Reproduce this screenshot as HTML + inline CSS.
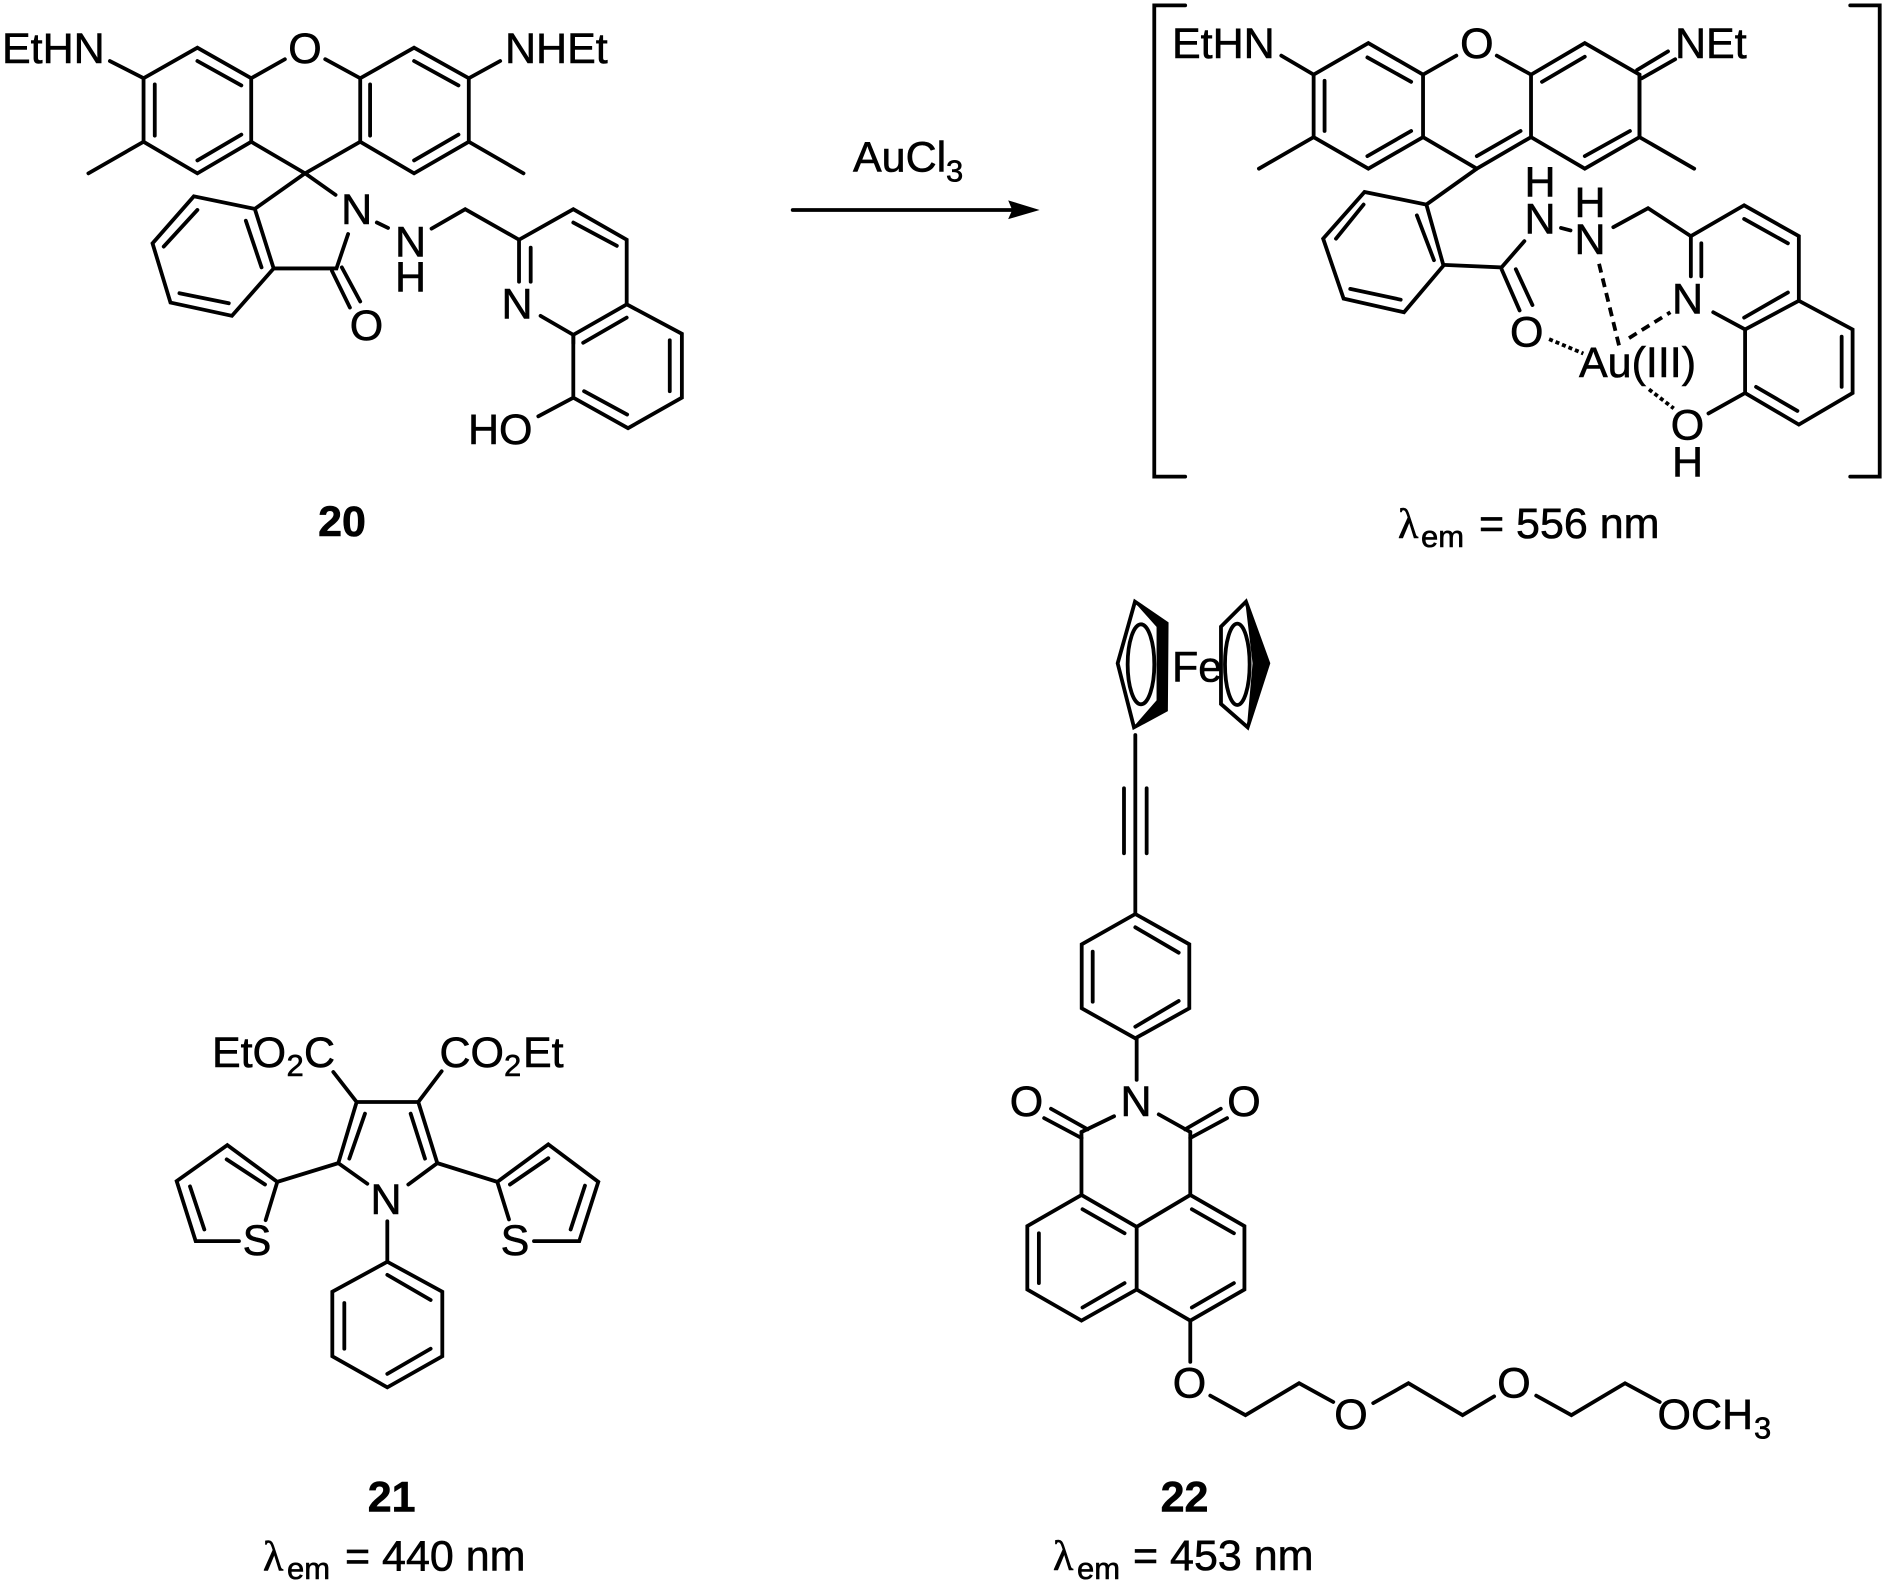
<!DOCTYPE html>
<html><head><meta charset="utf-8"><title>Compounds 20-22</title>
<style>
html,body{margin:0;padding:0;background:#fff;width:1882px;height:1585px;overflow:hidden}
svg{display:block}
text{font-family:"Liberation Sans",Arial,sans-serif;font-size:43px;fill:#000;stroke:#000;stroke-width:.6px}
.m{text-anchor:middle}
.b{font-weight:bold}
.s{font-size:31px}
.l{font-family:"Liberation Serif","DejaVu Serif",serif;font-size:42px}
path,polyline,line,polygon,ellipse{vector-effect:non-scaling-stroke;stroke:#000;stroke-width:3.8;fill:none;stroke-linejoin:miter;stroke-linecap:round}
.f{fill:#000;stroke-width:1.5}
.d{stroke-dasharray:9 6;stroke-linecap:butt}
.t{stroke-dasharray:4 3;stroke-linecap:butt}
</style></head><body>
<svg xmlns="http://www.w3.org/2000/svg" width="1882" height="1585" viewBox="0 0 1882 1585">
<rect width="1882" height="1585" fill="#fff"/>

<!-- Compound 20 -->
<g transform="scale(.4486 .3589)">
<path d="M320 218L440 133L560 218L560 395L440 483L320 395Z"/>
<path d="M345 235V378M440 170L538 238M440 447L538 375"/>
<path d="M245 170L320 218M320 395L197 483M560 218L635 165M725 165L803 218"/>
<path d="M803 218L923 133L1045 218L1045 395L923 483L803 395Z"/>
<path d="M825 235V378M923 170L1022 238M923 447L1022 375M1045 218L1115 170M1045 395L1167 483"/>
<path d="M560 395L680 483L803 395M680 483L568 582M680 483L748 543"/>
<path d="M568 582L432 547L340 678L380 843L517 880L610 748Z"/>
<path d="M548 615L583 745M440 585L365 687M400 817L510 845"/>
<path d="M610 748H750L776 652M740 755L780 857M762 745L803 840M840 620L865 635"/>
<path d="M962 637L1037 583L1157 668L1278 583L1397 668V848L1278 933L1205 880"/>
<path d="M1157 668V785M1183 690V785M1278 620L1375 685M1278 957V933M1300 955L1397 885"/>
<path d="M1397 848L1520 930V1108L1400 1193L1278 1108V933M1493 948V1090M1302 1090L1398 1155M1278 1108L1200 1160"/>
</g>
<text x="2" y="62.8">EtHN</text>
<text x="505" y="62.8">NHEt</text>
<text class="m" x="305" y="62.8">O</text>
<text class="m" x="356.7" y="224">N</text>
<text class="m" x="410.5" y="256.6">N</text>
<text class="m" x="410.5" y="291.5">H</text>
<text class="m" x="366.5" y="340">O</text>
<text class="m" x="517" y="318.4">N</text>
<text x="468" y="444">HO</text>
<text class="m b" x="342" y="536">20</text>

<!-- Arrow -->
<line x1="792.7" y1="210" x2="1013" y2="210"/>
<polygon class="f" points="1037,210 1009.5,201.5 1013,210 1009.5,218"/>
<text x="853" y="171.7">AuCl</text>
<text class="s" x="946" y="181.7">3</text>

<!-- Complex -->
<g transform="translate(1140 0) scale(.4757 .3589)">
<path d="M95 15H30V1328H95M1493 15H1555V1328H1493"/>
<path d="M365 208L480 120L595 208V382L480 470L365 382Z"/>
<path d="M388 225V365M478 160L570 228M478 435L570 365M297 155L365 208M365 382L250 470M595 208L665 155M750 155L822 208"/>
<path d="M595 382L708 470L822 382V208L935 120L1050 208V382L935 470L822 382"/>
<path d="M708 435L800 365M845 228L935 158M935 435L1030 365M1050 208V382"/>
<path d="M1045 195L1110 143M1055 218L1125 165M1050 382L1165 470"/>
<path d="M708 470L602 570L472 535L385 665L428 832L555 870L638 740L602 570Z"/>
<path d="M582 600L618 725M470 570L412 665M442 805L548 835"/>
<path d="M638 738L760 745L808 672M760 750L798 865M790 750L825 850M885 635L905 642"/>
<path d="M995 633L1068 580L1158 658L1270 572L1385 658V838L1272 918L1205 870"/>
<path d="M1158 658V770M1180 678V770M1270 610L1362 678M1270 885L1362 815"/>
<path d="M1385 838L1498 918V1095L1385 1183L1272 1095V918M1475 938V1078M1295 1078L1382 1145M1272 1095L1195 1152"/>
<line class="d" x1="965" y1="735" x2="1008" y2="968"/>
<line class="d" x1="1028" y1="942" x2="1115" y2="870"/>
<line class="t" x1="860" y1="945" x2="932" y2="985"/>
<line class="t" x1="1070" y1="1085" x2="1122" y2="1138"/>
</g>
<text x="1172" y="58">EtHN</text>
<text class="m" x="1476.8" y="58">O</text>
<text x="1675" y="58">NEt</text>
<text class="m" x="1540" y="196.7">H</text>
<text class="m" x="1540" y="233.3">N</text>
<text class="m" x="1590" y="217">H</text>
<text class="m" x="1590" y="254">N</text>
<text class="m" x="1687.5" y="313.4">N</text>
<text class="m" x="1526.7" y="346.4">O</text>
<text x="1579" y="377">Au(III)</text>
<text class="m" x="1687.5" y="439.7">O</text>
<text class="m" x="1687.5" y="476.7">H</text>
<text class="l" x="1398" y="538">λ</text>
<text class="s" x="1421" y="547">em</text>
<text x="1479" y="538">= 556 nm</text>

<!-- Compound 21 -->
<g transform="translate(160 1000) scale(.3333 .375)">
<path d="M622 490L535 435L590 272H775L832 435L745 492M568 423L615 303M795 423L752 303"/>
<path d="M590 272L520 192M775 272L845 190"/>
<path d="M535 435L352 485L202 387L50 483L107 643H237M352 485L317 587M200 425L315 492M90 497L133 612"/>
<path d="M832 435L1012 485L1165 385L1315 485L1258 643H1122M1012 485L1047 585M1050 492L1165 422M1275 495L1232 612"/>
<path d="M682 590V698"/>
<path d="M682 698L847 778V950L682 1033L517 950V778Z"/>
<path d="M682 733L812 800M553 808V930M682 997L812 930"/>
</g>
<text x="212" y="1067">EtO</text>
<text class="s" x="286.5" y="1076">2</text>
<text x="304" y="1067">C</text>
<text x="439.5" y="1067">CO</text>
<text class="s" x="504" y="1076">2</text>
<text x="523" y="1067">Et</text>
<text class="m" x="386" y="1214">N</text>
<text class="m" x="257" y="1255">S</text>
<text class="m" x="515" y="1255">S</text>
<text class="m b" x="391.7" y="1511.7">21</text>
<text class="l" x="263" y="1570.6">λ</text>
<text class="s" x="287" y="1579">em</text>
<text x="345" y="1570.6">= 440 nm</text>

<!-- Compound 22: ferrocene + alkyne -->
<g transform="translate(1000 580) scale(.3333)">
<path d="M405 65L500 130L498 390L402 442L353 250Z"/>
<polygon class="f" points="405,65 500,130 500,390 402,442 472,362 472,140"/>
<ellipse cx="423" cy="253" rx="40" ry="120"/>
<path d="M738 65L663 140V372L743 442L805 250Z"/>
<polygon class="f" points="738,65 805,250 743,442 760,250"/>
<ellipse cx="712" cy="253" rx="37" ry="122"/>
<path d="M406 465V1000M372 625V820M440 625V820"/>
</g>
<text x="1172" y="681.7">Fe</text>

<!-- phenyl -->
<path d="M1135.3 914L1189.3 944.3V1008.3L1135.3 1038.3L1081.7 1008.3V944.3Z"/>
<path d="M1135.3 927.3L1178.7 952.7M1092.7 951.7V1001.7M1135.3 1026.7L1178.7 1001"/>

<g transform="translate(980 1000) scale(.5257 .375)">
<path d="M298 103V213M255 310L193 352M340 305L400 352"/>
<path d="M122 315L193 368M135 290L205 345M400 368L470 315M390 345L458 290"/>
<path d="M193 352V520M400 352V520"/>
<path d="M193 520L90 603V772L193 855L298 772V605ZM298 605L400 520L503 603V772L400 855L298 772"/>
<path d="M112 622V755M195 820L275 755M195 558L275 622M403 558L483 622M483 755L403 820"/>
<path d="M400 855V965M438 1055L505 1107L607 1022L672 1072M748 1075L815 1022L918 1107L978 1057M1058 1055L1125 1107L1227 1022L1293 1072"/>
</g>
<text class="m" x="1026.5" y="1116">O</text>
<text class="m" x="1136" y="1116">N</text>
<text class="m" x="1244" y="1116">O</text>
<text class="m" x="1189.5" y="1397.6">O</text>
<text class="m" x="1351" y="1429">O</text>
<text class="m" x="1514" y="1397.6">O</text>
<text x="1657.5" y="1429">OCH</text>
<text class="s" x="1754" y="1438.5">3</text>
<text class="m b" x="1184.5" y="1511.7">22</text>
<text class="l" x="1053" y="1569.8">λ</text>
<text class="s" x="1077" y="1579">em</text>
<text x="1133" y="1569.8">= 453 nm</text>
</svg>
</body></html>
